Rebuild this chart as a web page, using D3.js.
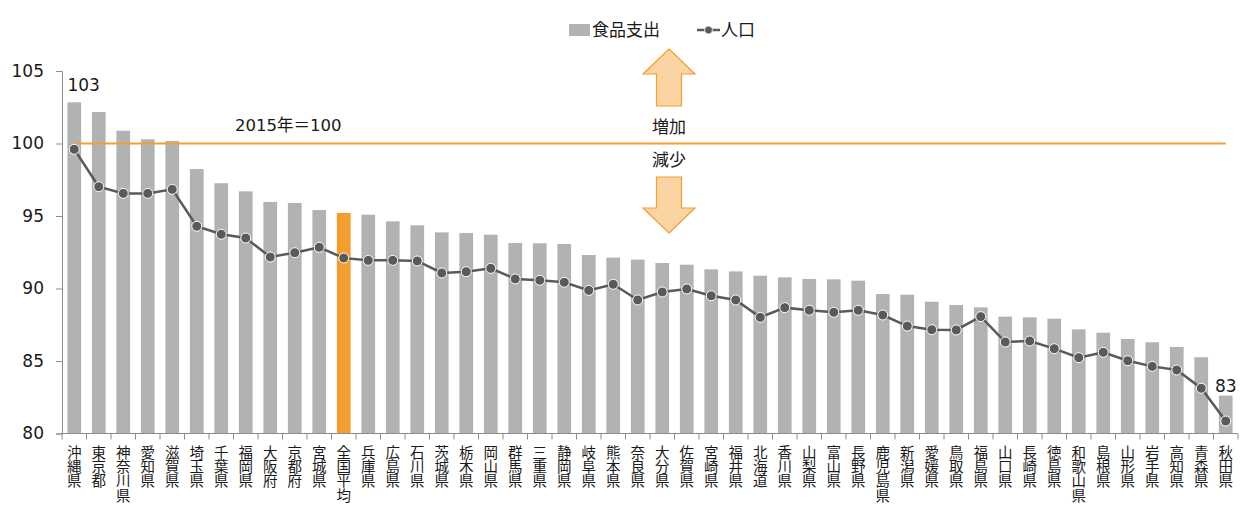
<!DOCTYPE html>
<html>
<head>
<meta charset="utf-8">
<script src="https://cdn.jsdelivr.net/npm/d3@7"></script>
<style>
  html, body { margin: 0; padding: 0; background: #fff; }
  svg { display: block; }
  text { font-family: "DejaVu Sans", "Noto Sans CJK JP", sans-serif; fill: #1a1a1a; }
</style>
</head>
<body>
<svg id="chart" width="1247" height="518"></svg>
<script>
// Prefectures (plus national average), sorted by food expenditure index
const prefectures = [
  "沖縄県","東京都","神奈川県","愛知県","滋賀県","埼玉県","千葉県","福岡県","大阪府","京都府",
  "宮城県","全国平均","兵庫県","広島県","石川県","茨城県","栃木県","岡山県","群馬県","三重県",
  "静岡県","岐阜県","熊本県","奈良県","大分県","佐賀県","宮崎県","福井県","北海道","香川県",
  "山梨県","富山県","長野県","鹿児島県","新潟県","愛媛県","鳥取県","福島県","山口県","長崎県",
  "徳島県","和歌山県","島根県","山形県","岩手県","高知県","青森県","秋田県"
];

// Food expenditure index (2015 = 100)
const foodSpending = [
  102.84,102.17,100.88,100.29,100.17,98.24,97.26,96.70,95.97,95.90,
  95.41,95.21,95.09,94.63,94.36,93.87,93.83,93.71,93.14,93.12,
  93.07,92.31,92.13,91.99,91.76,91.64,91.32,91.18,90.88,90.77,
  90.66,90.63,90.54,89.62,89.57,89.09,88.86,88.70,88.06,88.01,
  87.92,87.18,86.95,86.52,86.29,85.97,85.26,82.61
];

// Population index (2015 = 100)
const population = [
  99.60,97.02,96.56,96.56,96.84,94.29,93.74,93.48,92.17,92.47,
  92.84,92.10,91.94,91.94,91.90,91.07,91.16,91.39,90.66,90.57,
  90.43,89.87,90.29,89.21,89.76,89.97,89.50,89.21,88.01,88.68,
  88.50,88.36,88.50,88.17,87.41,87.16,87.14,88.06,86.31,86.38,
  85.85,85.23,85.60,85.02,84.63,84.38,83.12,80.86
];

const yTicks = [80, 85, 90, 95, 100, 105];
const baseValue = 100;
const baseLabel = "2015年＝100";
const legendLabels = ["食品支出", "人口"];
const upLabel = "増加", downLabel = "減少";
const averageName = "全国平均";

const svg = d3.select("#chart");
const plotLeft = 62, plotRight = 1238, plotTop = 71, plotBottom = 433.5;

const x = d3.scaleBand()
  .domain(prefectures)
  .range([plotLeft, plotRight])
  .paddingInner(0.44)
  .paddingOuter(0.22);

const y = d3.scaleLinear().domain([80, 105]).range([plotBottom, plotTop]);

const grey = "#b1b2b4", orange = "#f59e2f", lineCol = "#5a5a5a", axisCol = "#8c8c8c";

// Bars
svg.append("g").selectAll("rect")
  .data(prefectures)
  .join("rect")
  .attr("x", d => x(d))
  .attr("width", x.bandwidth())
  .attr("y", (d, i) => y(foodSpending[i]))
  .attr("height", (d, i) => y(80) - y(foodSpending[i]))
  .attr("fill", d => d === averageName ? orange : grey);

// Base line at 100
svg.append("line")
  .attr("x1", x(prefectures[0]) + x.bandwidth() / 2)
  .attr("x2", x(prefectures[prefectures.length - 1]) + x.bandwidth() / 2)
  .attr("y1", y(baseValue)).attr("y2", y(baseValue))
  .attr("stroke", orange).attr("stroke-width", 2);

// Y axis
const yAxis = svg.append("g")
  .attr("transform", `translate(${plotLeft},0)`)
  .call(d3.axisLeft(y).tickValues(yTicks).tickSize(6).tickPadding(12).tickFormat(d3.format("d")));
yAxis.select(".domain").attr("stroke", axisCol);
yAxis.selectAll(".tick line").attr("stroke", axisCol);
yAxis.selectAll(".tick text")
  .attr("font-size", 17)
  .attr("font-family", "DejaVu Sans, sans-serif")
  .attr("fill", "#1a1a1a");

// X axis: ticks at band boundaries
const xAxisG = svg.append("g").attr("transform", `translate(0,${plotBottom})`);
xAxisG.append("line").attr("x1", plotLeft).attr("x2", plotRight).attr("stroke", axisCol);
const step = x.step();
const boundaries = d3.range(prefectures.length + 1).map(i => plotLeft + i * step);
xAxisG.selectAll("line.tk").data(boundaries).join("line")
  .attr("class", "tk")
  .attr("x1", d => d).attr("x2", d => d)
  .attr("y1", 0).attr("y2", 6)
  .attr("stroke", axisCol);

// Vertical category labels
const labels = svg.append("g").selectAll("text")
  .data(prefectures)
  .join("text")
  .attr("font-size", 14.5)
  .attr("text-anchor", "middle")
  .attr("font-family", "Noto Sans CJK JP, sans-serif");
labels.each(function(d) {
  const t = d3.select(this);
  const cx = x(d) + x.bandwidth() / 2;
  Array.from(d).forEach((ch, k) => {
    t.append("tspan").attr("x", cx).attr("y", 458 + k * 14.2).text(ch);
  });
});

// Population line and markers
const line = d3.line()
  .x((d, i) => x(prefectures[i]) + x.bandwidth() / 2)
  .y(d => y(d));
svg.append("path")
  .datum(population)
  .attr("d", line)
  .attr("fill", "none")
  .attr("stroke", lineCol)
  .attr("stroke-width", 2.5);
svg.append("g").selectAll("circle")
  .data(population)
  .join("circle")
  .attr("cx", (d, i) => x(prefectures[i]) + x.bandwidth() / 2)
  .attr("cy", d => y(d))
  .attr("r", 5)
  .attr("fill", lineCol)
  .attr("stroke", "#fff")
  .attr("stroke-width", 1);

// End value labels
const first = 0, last = prefectures.length - 1;
svg.append("text")
  .attr("x", x(prefectures[first]))
  .attr("y", y(foodSpending[first]) - 11)
  .attr("font-size", 17)
  .text(Math.round(foodSpending[first]));
svg.append("text")
  .attr("x", x(prefectures[last]) + x.bandwidth() / 2)
  .attr("y", y(foodSpending[last]) - 4)
  .attr("text-anchor", "middle")
  .attr("font-size", 17)
  .text(Math.round(foodSpending[last]));

// Base label
svg.append("text")
  .attr("x", 235).attr("y", y(baseValue) - 13)
  .attr("font-size", 16.5)
  .text(baseLabel);

// Increase / decrease arrows
const ax = 669;
const arrowFill = "#fad4a3";
svg.append("path")
  .attr("d", `M${ax},49 L${ax + 26},74 L${ax + 12.5},74 L${ax + 12.5},106 L${ax - 12.5},106 L${ax - 12.5},74 L${ax - 26},74 Z`)
  .attr("fill", arrowFill).attr("stroke", orange).attr("stroke-width", 1.2);
svg.append("path")
  .attr("d", `M${ax},233 L${ax + 26},208 L${ax + 12.5},208 L${ax + 12.5},177 L${ax - 12.5},177 L${ax - 12.5},208 L${ax - 26},208 Z`)
  .attr("fill", arrowFill).attr("stroke", orange).attr("stroke-width", 1.2);
svg.append("text").attr("x", ax).attr("y", 133).attr("text-anchor", "middle")
  .attr("font-size", 17).attr("font-family", "Noto Sans CJK JP, sans-serif").text(upLabel);
svg.append("text").attr("x", ax).attr("y", 166).attr("text-anchor", "middle")
  .attr("font-size", 17).attr("font-family", "Noto Sans CJK JP, sans-serif").text(downLabel);

// Legend
const lg = svg.append("g");
lg.append("rect").attr("x", 569).attr("y", 24).attr("width", 21).attr("height", 12).attr("fill", grey);
lg.append("text").attr("x", 592).attr("y", 36).attr("font-size", 17)
  .attr("font-family", "Noto Sans CJK JP, sans-serif").text(legendLabels[0]);
lg.append("line").attr("x1", 697).attr("x2", 720).attr("y1", 30).attr("y2", 30)
  .attr("stroke", lineCol).attr("stroke-width", 2.5);
lg.append("circle").attr("cx", 708.5).attr("cy", 30).attr("r", 4)
  .attr("fill", lineCol).attr("stroke", "#fff").attr("stroke-width", 0.8);
lg.append("text").attr("x", 721).attr("y", 36).attr("font-size", 17)
  .attr("font-family", "Noto Sans CJK JP, sans-serif").text(legendLabels[1]);
</script>
</body>
</html>
